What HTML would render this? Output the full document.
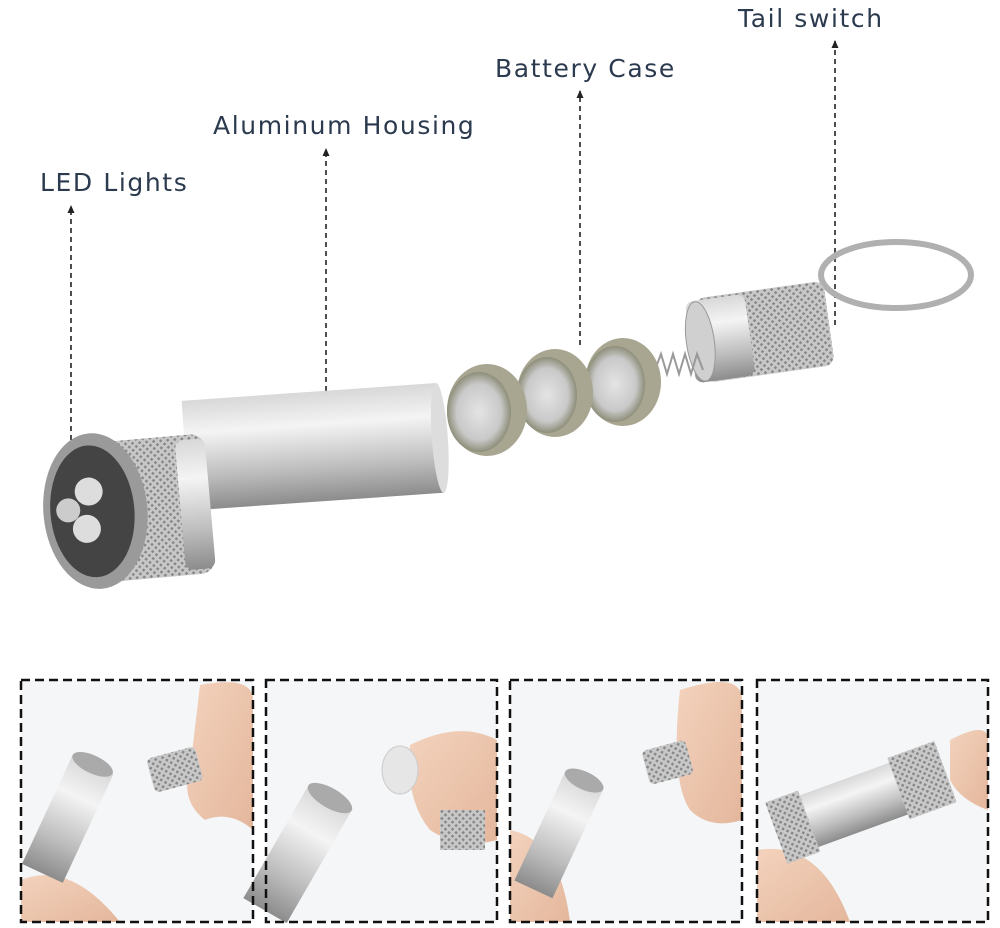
<!DOCTYPE html>
<html><head><meta charset="utf-8"><style>
html,body{margin:0;padding:0;background:#fff;}
svg{display:block}
text{font-family:"DejaVu Sans","Liberation Sans",sans-serif;fill:#2b3a4e;font-size:25px;letter-spacing:1.6px}
</style></head><body>
<svg width="1000" height="928" viewBox="0 0 1000 928">
<defs>
<linearGradient id="tube" x1="0" y1="0" x2="0" y2="1">
<stop offset="0" stop-color="#d8d8d8"/><stop offset="0.3" stop-color="#f4f4f4"/><stop offset="0.7" stop-color="#bdbdbd"/><stop offset="1" stop-color="#8c8c8c"/></linearGradient>
<pattern id="knurl" width="5" height="5" patternUnits="userSpaceOnUse" patternTransform="rotate(45)">
<rect width="5" height="5" fill="#c8c8c8"/><rect width="2.5" height="2.5" fill="#888"/></pattern>
<radialGradient id="bat" cx="0.5" cy="0.5" r="0.5"><stop offset="0" stop-color="#e4e4e4"/><stop offset="0.7" stop-color="#c9c9c9"/><stop offset="1" stop-color="#8e8e7a"/></radialGradient>
<linearGradient id="skin" x1="0" y1="0" x2="1" y2="1"><stop offset="0" stop-color="#f3d2bd"/><stop offset="1" stop-color="#e4b79c"/></linearGradient>
<marker id="ar" markerWidth="8" markerHeight="8" refX="7" refY="4" orient="auto" markerUnits="userSpaceOnUse"><path d="M8,4 L0,0.5 L0,7.5z" fill="#222"/></marker>
</defs>
<!-- labels -->
<text x="40" y="191">LED Lights</text>
<text x="213" y="134">Aluminum Housing</text>
<text x="495" y="77">Battery Case</text>
<text x="738" y="27">Tail switch</text>
<g stroke="#222" stroke-width="1.6" stroke-dasharray="5,4" fill="none">
<line x1="71" y1="440" x2="71" y2="206" marker-end="url(#ar)"/>
<line x1="326" y1="445" x2="326" y2="149" marker-end="url(#ar)"/>
<line x1="580" y1="345" x2="580" y2="91" marker-end="url(#ar)"/>
<line x1="835" y1="325" x2="835" y2="41" marker-end="url(#ar)"/>
</g>
<!-- keyring -->
<ellipse cx="896" cy="275" rx="75" ry="33" fill="none" stroke="#b0b0b0" stroke-width="6"/>
<!-- tail cap -->
<g transform="rotate(-8 760 335)">
<rect x="700" y="290" width="130" height="85" rx="10" fill="url(#knurl)"/>
<rect x="690" y="292" width="60" height="82" rx="8" fill="url(#tube)"/>
<ellipse cx="700" cy="333" rx="14" ry="40" fill="#d0d0d0" stroke="#999"/>
</g>
<!-- spring -->
<path d="M655,370 l6,-16 l6,20 l6,-20 l6,20 l6,-20 l6,20 l6,-20 l6,16" stroke="#999" stroke-width="2" fill="none"/>
<!-- batteries -->
<g>
<ellipse cx="623" cy="382" rx="38" ry="44" fill="#a8a690"/><ellipse cx="615" cy="384" rx="30" ry="38" fill="url(#bat)"/>
<ellipse cx="555" cy="393" rx="38" ry="44" fill="#a8a690"/><ellipse cx="547" cy="395" rx="30" ry="38" fill="url(#bat)"/>
<ellipse cx="487" cy="410" rx="40" ry="46" fill="#a8a690"/><ellipse cx="479" cy="412" rx="32" ry="40" fill="url(#bat)"/>
</g>
<!-- body tube -->
<g transform="rotate(-4 310 445)">
<rect x="185" y="392" width="255" height="110" fill="url(#tube)"/>
<ellipse cx="440" cy="447" rx="8" ry="55" fill="#ddd"/>
</g>
<!-- head -->
<g transform="rotate(-5 130 505)">
<rect x="95" y="440" width="115" height="140" rx="15" fill="url(#knurl)"/>
<rect x="180" y="445" width="30" height="130" rx="8" fill="url(#tube)"/>
<ellipse cx="95" cy="508" rx="52" ry="78" fill="#9a9a9a"/>
<ellipse cx="92" cy="508" rx="42" ry="66" fill="#444"/>
<circle cx="90" cy="488" r="14" fill="#ddd"/><circle cx="85" cy="525" r="14" fill="#ddd"/><circle cx="68" cy="505" r="12" fill="#ccc"/>
</g>
<!-- panels -->
<g>
<rect x="21" y="680" width="232" height="242" fill="#f4f6f8"/>
<rect x="266" y="680" width="231" height="242" fill="#f4f6f8"/>
<rect x="510" y="680" width="232" height="242" fill="#f4f6f8"/>
<rect x="757" y="680" width="231" height="242" fill="#f4f6f8"/>
</g>
<!-- panel1 -->
<path d="M200,685 Q253,675 253,700 L253,830 Q230,810 205,820 Q180,800 190,770 Z" fill="url(#skin)"/>
<path d="M21,880 Q70,860 120,922 L21,922Z" fill="url(#skin)"/>
<g transform="rotate(25 70 820)"><rect x="45" y="760" width="45" height="120" fill="url(#tube)"/><ellipse cx="67" cy="760" rx="22" ry="9" fill="#aaa"/></g>
<rect x="150" y="752" width="50" height="35" rx="5" fill="url(#knurl)" transform="rotate(-15 175 770)"/>
<!-- panel2 -->
<path d="M410,745 Q460,720 497,740 L497,840 Q460,850 430,830 Q405,800 410,745Z" fill="url(#skin)"/>
<ellipse cx="400" cy="770" rx="18" ry="24" fill="#e6e6e6" stroke="#ccc"/>
<g transform="rotate(30 300 850)"><rect x="275" y="790" width="50" height="130" fill="url(#tube)"/><ellipse cx="300" cy="790" rx="25" ry="10" fill="#aaa"/></g>
<rect x="440" y="810" width="45" height="40" fill="url(#knurl)"/>
<!-- panel3 -->
<path d="M680,690 Q742,670 742,700 L742,820 Q710,830 690,810 Q670,780 680,690Z" fill="url(#skin)"/>
<path d="M510,830 Q560,840 570,922 L510,922Z" fill="url(#skin)"/>
<g transform="rotate(25 560 830)"><rect x="540" y="775" width="42" height="120" fill="url(#tube)"/><ellipse cx="561" cy="775" rx="21" ry="9" fill="#aaa"/></g>
<rect x="645" y="745" width="45" height="35" rx="5" fill="url(#knurl)" transform="rotate(-15 667 762)"/>
<!-- panel4 -->
<path d="M950,740 Q988,720 988,740 L988,810 Q960,800 950,780Z" fill="url(#skin)"/>
<path d="M757,850 Q820,840 850,922 L757,922Z" fill="url(#skin)"/>
<g transform="rotate(-20 860 800)"><rect x="780" y="775" width="170" height="55" fill="url(#tube)"/><rect x="900" y="770" width="50" height="65" fill="url(#knurl)"/><rect x="770" y="770" width="35" height="65" fill="url(#knurl)"/></g>
<!-- dashed borders -->
<g fill="none" stroke="#111" stroke-width="2.5" stroke-dasharray="9,5">
<rect x="21" y="680" width="232" height="242"/>
<rect x="266" y="680" width="231" height="242"/>
<rect x="510" y="680" width="232" height="242"/>
<rect x="757" y="680" width="231" height="242"/>
</g>
</svg>
</body></html>
